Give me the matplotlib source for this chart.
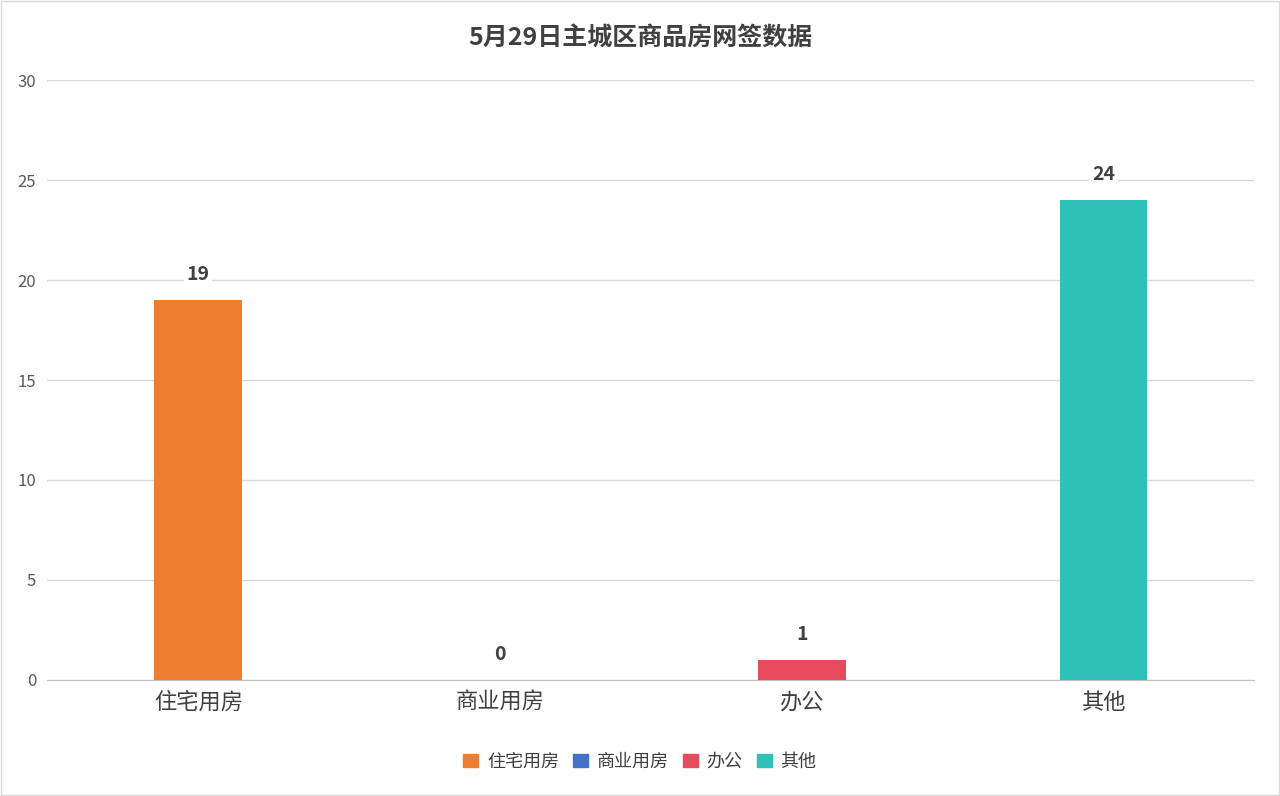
import matplotlib.pyplot as plt
from matplotlib.patches import Rectangle

plt.rcParams['font.family'] = ['Noto Sans CJK SC', 'DejaVu Sans']

categories = ['住宅用房', '商业用房', '办公', '其他']
values = [19, 0, 1, 24]
colors = ['#ED7D31', '#4472C4', '#E64A5C', '#2EC1B5']
title = '5月29日主城区商品房网签数据'

fig = plt.figure(figsize=(12.8, 7.96), dpi=100)
ax = fig.add_axes([0.037, 0.146, 0.943, 0.753])

x = range(len(categories))
bars = ax.bar(x, values, width=0.29, color=colors, zorder=3)
for xi, v in zip(x, values):
    ax.text(xi, v + 0.8, str(v), ha='center', va='bottom', fontsize=14,
            fontweight='bold', color='#404040', zorder=4,
            bbox=dict(facecolor='white', edgecolor='none', pad=2))

ax.set_xlim(-0.5, 3.5)
ax.set_ylim(0, 30)
ax.set_yticks(range(0, 31, 5))
ax.set_xticks(list(x))
ax.set_xticklabels(categories, fontsize=16, color='#404040')
ax.tick_params(axis='y', labelsize=12, labelcolor='#595959', length=0, pad=8)
ax.tick_params(axis='x', length=0, pad=8)
ax.grid(axis='y', color='#D9D9D9', linewidth=1, zorder=0)
for s in ['top', 'right', 'left']:
    ax.spines[s].set_visible(False)
ax.spines['bottom'].set_color('#BFBFBF')

fig.text(0.5, 0.952, title, ha='center', va='center', fontsize=18,
         fontweight='bold', color='#404040')

handles = [Rectangle((0, 0), 1, 1, color=c) for c in colors]
fig.legend(handles, categories, loc='center', bbox_to_anchor=(0.5, 0.043),
           ncol=4, frameon=False, fontsize=13, handlelength=0.8,
           handleheight=0.8, columnspacing=0.8, handletextpad=0.5,
           labelcolor='#404040')

fig.patches.append(Rectangle((0.001, 0.001), 0.998, 0.998, transform=fig.transFigure,
                             fill=False, edgecolor='#D9D9D9', linewidth=1))

fig.savefig('out.png', dpi=100)
